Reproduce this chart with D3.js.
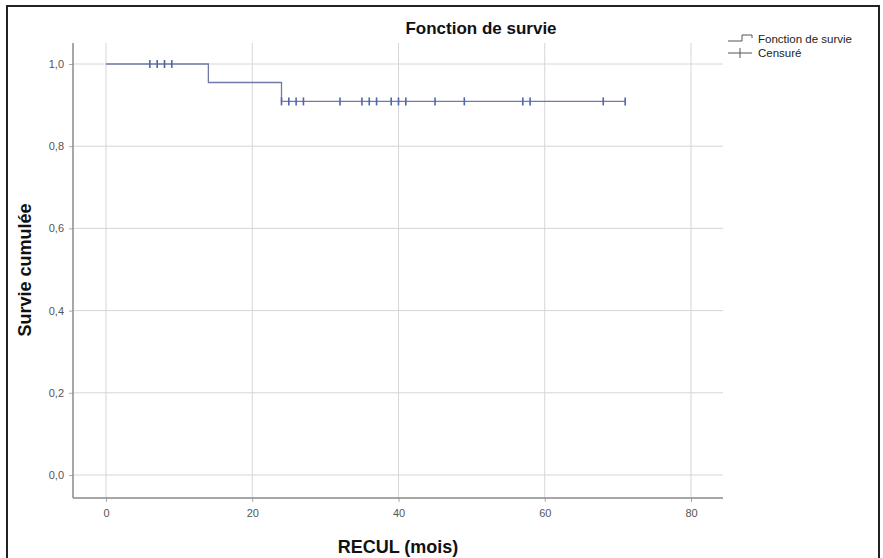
<!DOCTYPE html>
<html>
<head>
<meta charset="utf-8">
<script src="https://cdn.jsdelivr.net/npm/d3@7"></script>
<style>
  html, body { margin: 0; padding: 0; background: #fff; }
  svg { display: block; font-family: "Liberation Sans", Arial, sans-serif; }
</style>
</head>
<body>
<svg id="chart" width="883" height="558"></svg>
<script>
// Kaplan-Meier step function: times where survival changes and the level after each
const stepTimes = [0, 14, 24];
const stepSurvival = [1.0, 0.955, 0.909];
const followUpEnd = 71;

// Censored observations (months)
const censoredTimes = [6, 7, 8, 9, 24, 25, 26, 27, 32, 35, 36, 37, 39, 40, 41, 45, 49, 57, 58, 68, 71];

const xTicks = [0, 20, 40, 60, 80];
const yTicks = [0, 0.2, 0.4, 0.6, 0.8, 1.0];

const titleText = "Fonction de survie";
const xLabel = "RECUL (mois)";
const yLabel = "Survie cumulée";
const legendItems = ["Fonction de survie", "Censuré"];

const svg = d3.select("#chart");

const plot = { left: 73, right: 723, top: 43, bottom: 498 };

const x = d3.scaleLinear().domain([0, 80]).range([106, 691]);
const y = d3.scaleLinear().domain([0, 1]).range([475, 64]);

const fmt = v => d3.format(".1f")(v).replace(".", ",");

// outer frame
svg.append("path")
  .attr("d", "M7,558 V6 H879 V558")
  .attr("fill", "none").attr("stroke", "#222").attr("stroke-width", 2);

// grid
const grid = svg.append("g").attr("stroke", "#d6d6d6").attr("stroke-width", 1);
grid.selectAll("line.v").data(xTicks).join("line")
  .attr("x1", d => x(d)).attr("x2", d => x(d))
  .attr("y1", plot.top).attr("y2", plot.bottom);
grid.selectAll("line.h").data(yTicks).join("line")
  .attr("x1", plot.left).attr("x2", plot.right)
  .attr("y1", d => y(d)).attr("y2", d => y(d));

// axes
const xAxis = d3.axisBottom(x).tickValues(xTicks).tickSize(4).tickPadding(7).tickFormat(d3.format("d"));
const yAxis = d3.axisLeft(y).tickValues(yTicks).tickSize(4).tickPadding(5).tickFormat(fmt);

const gx = svg.append("g").attr("transform", `translate(0,${plot.bottom})`).call(xAxis);
const gy = svg.append("g").attr("transform", `translate(${plot.left},0)`).call(yAxis);

[gx, gy].forEach(g => {
  g.select(".domain").remove();
  g.selectAll(".tick line").attr("stroke", "#aaa");
  g.selectAll(".tick text").attr("fill", "#555").style("font-size", "11px")
    .style("font-family", "'Liberation Sans', Arial, sans-serif");
});

svg.append("line").attr("x1", plot.left).attr("x2", plot.left)
  .attr("y1", plot.top).attr("y2", plot.bottom)
  .attr("stroke", "#8a8a8a").attr("stroke-width", 1.5);
svg.append("line").attr("x1", plot.left).attr("x2", plot.right)
  .attr("y1", plot.bottom).attr("y2", plot.bottom)
  .attr("stroke", "#8a8a8a").attr("stroke-width", 1.5);

// survival curve
const curve = stepTimes.map((t, i) => [t, stepSurvival[i]]);
curve.push([followUpEnd, stepSurvival[stepSurvival.length - 1]]);
const line = d3.line().x(d => x(d[0])).y(d => y(d[1])).curve(d3.curveStepAfter);
svg.append("path").datum(curve)
  .attr("d", line).attr("fill", "none")
  .attr("stroke", "#6f7ba6").attr("stroke-width", 1.3);

// survival level at a given time
const survAt = t => {
  let s = stepSurvival[0];
  stepTimes.forEach((st, i) => { if (st <= t) s = stepSurvival[i]; });
  return s;
};

// censor marks
svg.append("g").selectAll("line").data(censoredTimes).join("line")
  .attr("x1", d => x(d)).attr("x2", d => x(d))
  .attr("y1", d => y(survAt(d)) - 4).attr("y2", d => y(survAt(d)) + 4)
  .attr("stroke", "#4f66ad").attr("stroke-width", 1.6);

// title and axis labels
svg.append("text").attr("x", 481).attr("y", 34).attr("text-anchor", "middle")
  .attr("font-weight", "bold").attr("font-size", 17).attr("fill", "#111").text(titleText);
svg.append("text").attr("x", 398).attr("y", 553).attr("text-anchor", "middle")
  .attr("font-weight", "bold").attr("font-size", 18).attr("fill", "#111").text(xLabel);
svg.append("text").attr("transform", "translate(31,270) rotate(-90)").attr("text-anchor", "middle")
  .attr("font-weight", "bold").attr("font-size", 18).attr("fill", "#111").text(yLabel);

// legend
const lg = svg.append("g").attr("stroke", "#555").attr("fill", "none").attr("stroke-width", 1);
lg.append("path").attr("d", "M728,41 H742 V35 H752 V38");
lg.append("path").attr("d", "M728,53 H752");
lg.append("path").attr("d", "M740,48 V58");
svg.selectAll("text.legend").data(legendItems).join("text")
  .attr("class", "legend")
  .attr("x", 758).attr("y", (d, i) => 43 + i * 14)
  .attr("font-size", 11.5).attr("fill", "#222").text(d => d);
</script>
</body>
</html>
